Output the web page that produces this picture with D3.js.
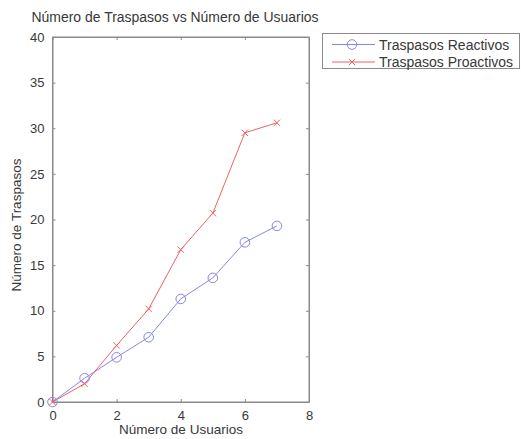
<!DOCTYPE html>
<html>
<head>
<meta charset="utf-8">
<script src="https://cdn.jsdelivr.net/npm/d3@7"></script>
<style>
  html, body { margin: 0; padding: 0; background: #fff; }
  svg { display: block; font-family: "Liberation Sans", Arial, Helvetica, sans-serif; }
</style>
</head>
<body>
<svg id="chart" width="521" height="439"></svg>
<script>
// Handover counts versus number of users
const usuarios = [0, 1, 2, 3, 4, 5, 6, 7];
const reactivos = [0, 2.6, 4.9, 7.1, 11.3, 13.6, 17.5, 19.3];
const proactivos = [0, 2.0, 6.2, 10.2, 16.7, 20.7, 29.5, 30.6];
const xTicks = [0, 2, 4, 6, 8];
const yTicks = [0, 5, 10, 15, 20, 25, 30, 35, 40];
const seriesNames = ["Traspasos Reactivos", "Traspasos Proactivos"];

const svg = d3.select("#chart");
const plotLeft = 52.5, plotRight = 309, plotTop = 37, plotBottom = 402;

const x = d3.scaleLinear().domain([0, 8]).range([plotLeft, plotRight]);
const y = d3.scaleLinear().domain([0, 40]).range([plotBottom, plotTop]);

const textColor = "#383838";
const axisColor = "#8a8a8a";
const blue = "#8686ec";
const red = "#f06262";

// Plot box
svg.append("rect")
  .attr("x", plotLeft).attr("y", plotTop)
  .attr("width", plotRight - plotLeft).attr("height", plotBottom - plotTop)
  .attr("fill", "none").attr("stroke", axisColor).attr("stroke-width", 1);

// Axes with inward ticks, mirrored on top and right
const xAxis = d3.axisBottom(x).tickValues(xTicks).tickSizeInner(-3).tickSizeOuter(0).tickPadding(9);
const yAxis = d3.axisLeft(y).tickValues(yTicks).tickSizeInner(-3).tickSizeOuter(0).tickPadding(8);

const gx = svg.append("g").attr("transform", `translate(0,${plotBottom})`).call(xAxis);
const gy = svg.append("g").attr("transform", `translate(${plotLeft},0)`).call(yAxis);
[gx, gy].forEach(g => {
  g.select(".domain").attr("stroke", axisColor);
  g.selectAll(".tick line").attr("stroke", axisColor);
  g.selectAll(".tick text").attr("fill", textColor).attr("font-size", 13)
    .attr("font-family", "'Liberation Sans', Arial, sans-serif");
});

const gxTop = svg.append("g").attr("transform", `translate(0,${plotTop})`)
  .call(d3.axisTop(x).tickValues(xTicks).tickSizeInner(-3).tickSizeOuter(0).tickFormat(""));
const gyRight = svg.append("g").attr("transform", `translate(${plotRight},0)`)
  .call(d3.axisRight(y).tickValues(yTicks).tickSizeInner(-3).tickSizeOuter(0).tickFormat(""));
[gxTop, gyRight].forEach(g => {
  g.select(".domain").attr("stroke", axisColor);
  g.selectAll(".tick line").attr("stroke", axisColor);
});

// Titles
svg.append("text").attr("x", 175).attr("y", 22).attr("text-anchor", "middle")
  .attr("font-size", 14).attr("fill", textColor)
  .attr("textLength", 287).attr("lengthAdjust", "spacingAndGlyphs")
  .text("Número de Traspasos vs Número de Usuarios");
svg.append("text").attr("x", 181).attr("y", 434).attr("text-anchor", "middle")
  .attr("font-size", 13.5).attr("fill", textColor)
  .text("Número de Usuarios");
svg.append("text").attr("transform", "translate(21,225) rotate(-90)").attr("text-anchor", "middle")
  .attr("font-size", 13.5).attr("fill", textColor)
  .text("Número de Traspasos");

// Series lines
const line = d3.line().x((d, i) => x(usuarios[i])).y(d => y(d));
svg.append("path").datum(reactivos).attr("d", line)
  .attr("fill", "none").attr("stroke", blue).attr("stroke-width", 1);
svg.append("path").datum(proactivos).attr("d", line)
  .attr("fill", "none").attr("stroke", red).attr("stroke-width", 1);

// Markers
function circleMarker(g, cx, cy) {
  g.append("circle").attr("cx", cx).attr("cy", cy).attr("r", 4.8)
    .attr("fill", "none").attr("stroke", blue).attr("stroke-width", 1);
}
function crossMarker(g, cx, cy) {
  const s = 3.2;
  g.append("path")
    .attr("d", `M${cx - s},${cy - s}L${cx + s},${cy + s}M${cx - s},${cy + s}L${cx + s},${cy - s}`)
    .attr("stroke", red).attr("stroke-width", 1).attr("fill", "none");
}
const marks = svg.append("g");
reactivos.forEach((v, i) => circleMarker(marks, x(usuarios[i]), y(v)));
proactivos.forEach((v, i) => crossMarker(marks, x(usuarios[i]), y(v)));

// Legend
const lg = svg.append("g");
lg.append("rect").attr("x", 322.5).attr("y", 33.5).attr("width", 197).attr("height", 35)
  .attr("fill", "#fff").attr("stroke", axisColor).attr("stroke-width", 1);
const rows = [
  { name: seriesNames[0], color: blue, marker: circleMarker, yy: 44.5 },
  { name: seriesNames[1], color: red, marker: crossMarker, yy: 62 }
];
rows.forEach(r => {
  lg.append("line").attr("x1", 332).attr("x2", 375).attr("y1", r.yy).attr("y2", r.yy)
    .attr("stroke", r.color).attr("stroke-width", 1);
  r.marker(lg, 352, r.yy);
  lg.append("text").attr("x", 379).attr("y", r.yy + 5).attr("font-size", 14)
    .attr("fill", textColor).text(r.name);
});
</script>
</body>
</html>
